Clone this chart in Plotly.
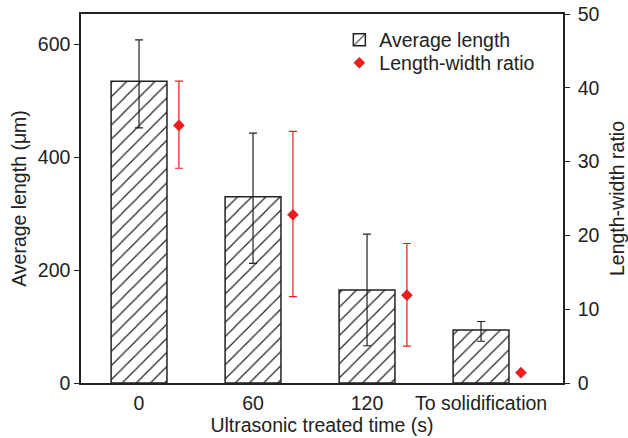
import plotly.graph_objects as go

categories = ["0", "60", "120", "To solidification"]
avg_length = [535, 330, 165, 94]
avg_len_err_plus = [73, 113, 99, 15]
avg_len_err_minus = [83, 118, 99, 20]
lw_ratio = [34.9, 22.8, 11.9, 1.4]
lw_err_plus = [6.0, 11.3, 7.0, 0]
lw_err_minus = [5.8, 11.1, 6.9, 0]

xpos = list(range(len(categories)))
xoff = [x + 0.35 for x in xpos]

FAM = "Liberation Sans, Arial, sans-serif"
font = dict(family=FAM, size=19.5, color="#222")
title_font = dict(family=FAM, size=19.5, color="#222")

fig = go.Figure()
fig.add_trace(go.Bar(
    x=xpos, y=avg_length, width=0.49, name="Average length", legend="legend",
    marker=dict(color="white", line=dict(color="#222", width=1.5),
                pattern=dict(shape="/", fgcolor="#222", bgcolor="white", fgopacity=1,
                             size=10, solidity=0.12)),
    error_y=dict(type="data", symmetric=False, array=avg_len_err_plus, arrayminus=avg_len_err_minus,
                 color="#222", thickness=1.2, width=4),
))
fig.add_trace(go.Scatter(
    x=xoff, y=lw_ratio, yaxis="y2", mode="markers", name="Length-width ratio", legend="legend2",
    marker=dict(symbol="diamond", color="#ee1c1c", size=9),
    error_y=dict(type="data", symmetric=False, array=lw_err_plus, arrayminus=lw_err_minus,
                 color="#ee1c1c", thickness=1.2, width=4),
))

leg_common = dict(xanchor="left", yanchor="middle", bgcolor="rgba(0,0,0,0)",
                  font=dict(size=19.5), itemwidth=30)

fig.update_layout(
    width=628, height=438,
    margin=dict(l=81, r=65, t=14, b=55, autoexpand=False),
    paper_bgcolor="white", plot_bgcolor="white",
    font=font,
    showlegend=True,
    legend=dict(x=0.536, y=0.929, **leg_common),
    legend2=dict(x=0.536, y=0.867, **leg_common),
    xaxis=dict(range=[-0.509, 3.719], tickvals=xpos, ticktext=categories, showline=True,
               linecolor="#222", linewidth=1.5, mirror=True, ticks="", showgrid=False, zeroline=False,
               ticklabelstandoff=2, automargin=True,
               title=dict(text="Ultrasonic treated time (s)", font=title_font, standoff=4)),
    yaxis=dict(range=[0, 654], tickvals=[0, 200, 400, 600], showline=True, linecolor="#222",
               linewidth=1.5, ticks="outside", ticklen=5, tickcolor="#222", showgrid=False, zeroline=False,
               automargin=True,
               title=dict(text="Average length (μm)", font=title_font, standoff=6)),
    yaxis2=dict(range=[0, 50], overlaying="y", side="right", tickvals=[0, 10, 20, 30, 40, 50],
                showline=True, linecolor="#222", linewidth=1.5, ticks="outside", ticklen=5,
                tickcolor="#222", showgrid=False, zeroline=False, automargin=True,
                ticklabelstandoff=4,
                title=dict(text="Length-width ratio", font=title_font, standoff=12)),
)

fig.write_html("out.html")
